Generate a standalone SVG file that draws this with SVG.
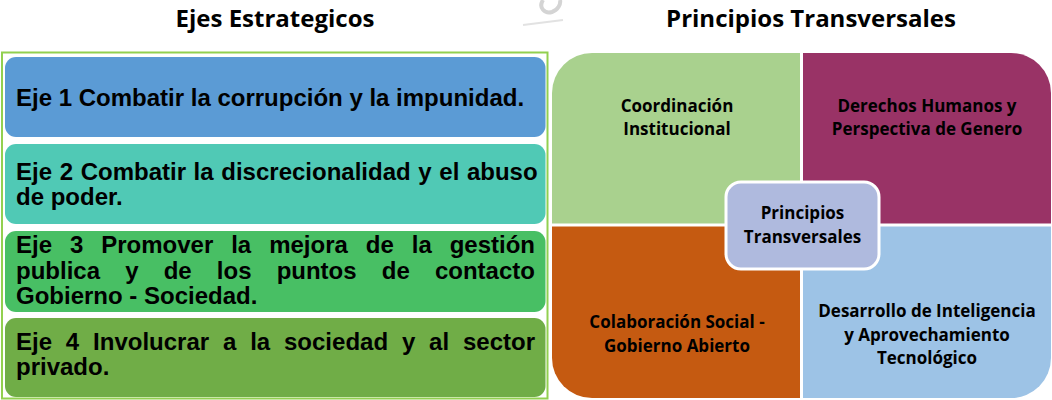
<svg xmlns="http://www.w3.org/2000/svg" width="1052" height="400" viewBox="0 0 1052 400">
<style>
.title{font-family:"Open Sans",Lato,"Liberation Sans",sans-serif;font-weight:bold;font-size:24px;fill:#000;text-anchor:middle}
.eje{font-family:"Liberation Sans",Arial,sans-serif;font-weight:bold;font-size:24px;fill:#000}
.pt{font-family:"Open Sans",Lato,"Liberation Sans",sans-serif;font-weight:bold;font-size:17px;fill:#000;text-anchor:middle}
.sep{stroke:#fff;stroke-width:3}
</style>
<rect width="1052" height="400" fill="#fff"/>
<g id="watermark" fill="none" stroke="#d4d4d4">
<path d="M543,0 C538,8 545,14 552,12 C558,10 561,4 560,0" stroke-width="4"/>
<path d="M523,25 L563,20" stroke-width="2" stroke="#e2e2e2"/>
</g>
<text class="title" x="275" y="27">Ejes Estrategicos</text>
<text class="title" x="811" y="27">Principios Transversales</text>
<g id="frame"><rect x="2" y="52.5" width="545.5" height="346" fill="none" stroke="#92D050" stroke-width="2"/></g>
<g id="eje1">
<rect x="5" y="57" width="540.5" height="80" rx="11" fill="#5B9BD5"/>
<text class="eje" x="16" y="106">Eje 1 Combatir la corrupción y la impunidad.</text>
</g>
<g id="eje2">
<rect x="5" y="144" width="540.5" height="80" rx="11" fill="#50C9B5"/>
<text class="eje" x="16" y="180" word-spacing="0.97">Eje 2 Combatir la discrecionalidad y el abuso</text>
<text class="eje" x="16" y="205">de poder.</text>
</g>
<g id="eje3">
<rect x="5" y="231" width="540.5" height="81" rx="11" fill="#48BF64"/>
<text class="eje" x="16" y="253" word-spacing="11.26">Eje 3 Promover la mejora de la gestión</text>
<text class="eje" x="16" y="279" word-spacing="18.48">publica y de los puntos de contacto</text>
<text class="eje" x="16" y="304">Gobierno - Sociedad.</text>
</g>
<g id="eje4">
<rect x="5" y="318" width="540.5" height="79" rx="11" fill="#70AD47"/>
<text class="eje" x="16" y="350" word-spacing="7.18">Eje 4 Involucrar a la sociedad y al sector</text>
<text class="eje" x="16" y="375">privado.</text>
</g>
<g id="q1">
<path d="M552,225 V93 A40,40 0 0 1 592,53 H801.5 V225 Z" fill="#A9D18E"/>
<text class="pt" x="677" y="112">Coordinación</text>
<text class="pt" x="677" y="135">Institucional</text>
</g>
<g id="q2">
<path d="M801.5,53 H1011 A40,40 0 0 1 1051,93 V225 H801.5 Z" fill="#993366"/>
<text class="pt" x="927" y="112">Derechos Humanos y</text>
<text class="pt" x="927" y="135">Perspectiva de Genero</text>
</g>
<g id="q3">
<path d="M552,225 H801.5 V398 H592 A40,40 0 0 1 552,358 Z" fill="#C55A11"/>
<text class="pt" x="677" y="328">Colaboración Social -</text>
<text class="pt" x="677" y="352">Gobierno Abierto</text>
</g>
<g id="q4">
<path d="M801.5,225 H1051 V358 A40,40 0 0 1 1011,398 H801.5 Z" fill="#9DC3E6"/>
<text class="pt" x="927" y="317">Desarrollo de Inteligencia</text>
<text class="pt" x="927" y="341">y Aprovechamiento</text>
<text class="pt" x="927" y="364">Tecnológico</text>
</g>
<g id="seps">
<line class="sep" x1="801.5" y1="53" x2="801.5" y2="398"/>
<line class="sep" x1="552" y1="225" x2="1051" y2="225"/>
</g>
<g id="center">
<rect x="726" y="182" width="153" height="87" rx="15" fill="#AFBADE" stroke="#fff" stroke-width="3"/>
<text class="pt" x="802.5" y="219">Principios</text>
<text class="pt" x="802.5" y="243">Transversales</text>
</g>
</svg>
